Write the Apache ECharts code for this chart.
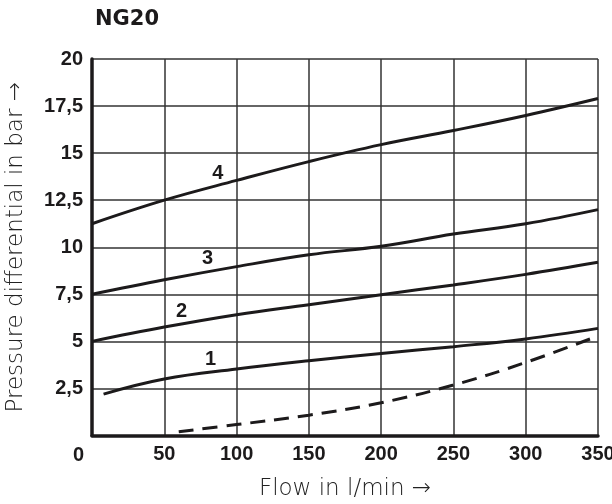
<!DOCTYPE html>
<html>
<head>
<meta charset="utf-8">
<script src="https://cdn.jsdelivr.net/npm/echarts@6/dist/echarts.min.js"></script>
<style>
html,body{margin:0;padding:0;background:#fff;}
#c{width:612px;height:504px;}
</style>
</head>
<body>
<div id="c"></div>
<script>
var title = 'NG20';
var xName = 'Flow in l/min \u2192';
var yName = 'Pressure differential in bar \u2192';
var xTicks = [0, 50, 100, 150, 200, 250, 300, 350];
var yTicks = ['0', '2,5', '5', '7,5', '10', '12,5', '15', '17,5', '20'];

var curve4 = [[0,11.25],[50,12.5],[100,13.55],[150,14.55],[200,15.45],[250,16.2],[300,17.0],[350,17.9]];
var curve3 = [[0,7.5],[50,8.27],[100,8.97],[150,9.6],[200,10.05],[250,10.7],[300,11.25],[350,12.0]];
var curve2 = [[0,5.0],[50,5.76],[100,6.42],[150,6.95],[200,7.48],[250,8.0],[300,8.56],[350,9.2]];
var curve1 = [[8,2.2],[50,3.0],[100,3.53],[150,3.97],[200,4.36],[250,4.72],[300,5.13],[350,5.69]];
var dashedCurve = [[60,0.2],[100,0.58],[150,1.08],[200,1.74],[250,2.68],[300,3.88],[350,5.29]];

var curveLabels = [
  {name:'4', value:[87, 13.92]},
  {name:'3', value:[80, 9.38]},
  {name:'2', value:[62, 6.57]},
  {name:'1', value:[82, 4.05]}
];

var numFont = "'Liberation Sans', Arial, sans-serif";
var nameFont = "'DejaVu Sans', sans-serif";
var ink = '#1c1a1b';

function lineSeries(data, dashed) {
  return {
    type: 'line', data: data, smooth: 0.4, symbol: 'none', silent: true,
    lineStyle: {color: ink, width: 3, type: dashed ? [15, 9] : 'solid', cap: 'butt'},
    z: 5
  };
}

var chart = echarts.init(document.getElementById('c'), null, {renderer: 'canvas'});
chart.setOption({
  animation: false,
  backgroundColor: '#fff',
  title: {
    text: title, left: 90, top: 4,
    textStyle: {fontFamily: 'DejaVu Sans', fontWeight: 'bold', fontSize: 21, color: ink}
  },
  grid: {left: 92, top: 59, width: 506, height: 376.5, outerBoundsMode: 'none', containLabel: false},
  xAxis: {
    type: 'value', min: 0, max: 350, interval: 50,
    name: xName, nameLocation: 'middle', nameGap: 42,
    nameTextStyle: {fontFamily: nameFont, fontWeight: 200, fontSize: 23, color: '#222'},
    axisLine: {show: true, lineStyle: {color: ink, width: 3.5}},
    axisTick: {show: false},
    axisLabel: {
      margin: 9, fontFamily: numFont, fontWeight: 'bold', fontSize: 20, color: ink,
      formatter: function (v) { return v === 0 ? '' : String(v); }
    },
    splitLine: {show: true, lineStyle: {color: '#333', width: 1.5}}
  },
  yAxis: {
    type: 'value', min: 0, max: 20, interval: 2.5,
    name: yName, nameLocation: 'middle', nameGap: 64, nameRotate: 90,
    nameTextStyle: {fontFamily: nameFont, fontWeight: 200, fontSize: 23, color: '#222'},
    axisLine: {show: true, lineStyle: {color: ink, width: 3.5}},
    axisTick: {show: false},
    axisLabel: {
      margin: 9, fontFamily: numFont, fontWeight: 'bold', fontSize: 20, color: ink,
      formatter: function (v) { var s = yTicks[Math.round(v / 2.5)]; return s === '0' ? '' : s; }
    },
    splitLine: {show: true, lineStyle: {color: '#333', width: 1.5}}
  },
  graphic: [{
    type: 'text', left: 73, top: 445,
    style: {text: String(xTicks[0]), font: 'bold 20px ' + numFont, fill: ink}
  }],
  series: [
    lineSeries(curve4), lineSeries(curve3), lineSeries(curve2), lineSeries(curve1),
    lineSeries(dashedCurve, true),
    {
      type: 'scatter', data: curveLabels, symbol: 'circle', symbolSize: 1,
      itemStyle: {color: 'rgba(0,0,0,0)'}, silent: true, z: 6,
      label: {
        show: true, position: 'inside', formatter: '{b}', opacity: 1,
        fontFamily: numFont, fontWeight: 'bold', fontSize: 20, color: ink,
        textBorderWidth: 0
      }
    }
  ]
});
</script>
</body>
</html>
